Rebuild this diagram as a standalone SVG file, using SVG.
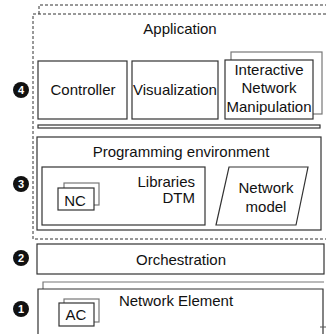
<svg xmlns="http://www.w3.org/2000/svg" width="326" height="334" viewBox="0 0 326 334">
<style>
text{font-family:"Liberation Sans",Arial,sans-serif;font-size:15px;fill:#111}
.box{fill:#fff;stroke:#333;stroke-width:1.2}
.sh{fill:#fff;stroke:#777;stroke-width:1.2}
.dash{fill:none;stroke:#333;stroke-width:1;stroke-dasharray:3 2}
.num{fill:#111}
.nt{fill:#fff;font-size:11px;font-weight:bold;text-anchor:middle}
.c{text-anchor:middle}
</style>
<rect width="326" height="334" fill="#fff"/>
<g id="connectors"></g>
<g id="layer4">
<polyline class="dash" points="39,14 39,5 326,5"/>
<polyline class="dash" points="326,14 33,14 33,239 326,239"/>
<text class="c" x="180" y="34" font-size="14">Application</text>
</g>
<g id="controller"><rect class="box" x="38" y="61" width="89" height="58"/><text class="c" x="83" y="95">Controller</text></g>
<g id="visualization"><rect class="box" x="132" y="61" width="86" height="58"/><text class="c" x="175" y="95">Visualization</text></g>
<g id="inm">
<rect class="sh" x="231" y="52" width="91" height="62"/>
<rect class="box" x="225" y="60" width="88" height="59"/>
<text class="c" x="269" y="75">Interactive</text>
<text class="c" x="269" y="93">Network</text>
<text class="c" x="269" y="112">Manipulation</text>
</g>
<g id="bar"><rect class="box" x="38" y="125" width="282" height="3"/></g>
<g id="progenv">
<rect class="box" x="37" y="137" width="284" height="93"/>
<text class="c" x="181" y="157">Programming environment</text>
</g>
<g id="libraries">
<rect class="box" x="42" y="167" width="163" height="58"/>
<text x="195" y="187" text-anchor="end">Libraries</text>
<text x="195" y="203" text-anchor="end">DTM</text>
</g>
<g id="nc">
<rect class="sh" x="64" y="183" width="35" height="22"/>
<rect class="box" x="58" y="188" width="36" height="22"/>
<text class="c" x="75" y="206">NC</text>
</g>
<g id="netmodel">
<polygon class="box" points="229,167 308,167 296,225 216,225"/>
<text class="c" x="266" y="193">Network</text>
<text class="c" x="266" y="212">model</text>
</g>
<g id="orchestration">
<rect class="box" x="37" y="244" width="287" height="30"/>
<text class="c" x="181" y="265">Orchestration</text>
</g>
<g id="netelement">
<polyline fill="none" stroke="#777" stroke-width="1.2" points="43,289 43,282 324,282"/>
<polyline fill="#fff" stroke="#333" stroke-width="1.2" points="38,336 38,289 323,289 323,336"/>
<line x1="320" y1="327" x2="326" y2="327" stroke="#555" stroke-width="1"/>
<text class="c" x="176" y="306">Network Element</text>
</g>
<g id="ac">
<rect class="sh" x="64" y="299" width="35" height="23"/>
<rect class="box" x="59" y="303" width="35" height="23"/>
<text class="c" x="76" y="320">AC</text>
</g>
<g id="markers">
<circle class="num" cx="21" cy="90" r="8"/><text class="nt" x="21" y="94">4</text>
<circle class="num" cx="21" cy="184" r="8"/><text class="nt" x="21" y="188">3</text>
<circle class="num" cx="21" cy="258" r="8"/><text class="nt" x="21" y="262">2</text>
<circle class="num" cx="21" cy="309" r="8"/><text class="nt" x="21" y="313">1</text>
</g>
</svg>
